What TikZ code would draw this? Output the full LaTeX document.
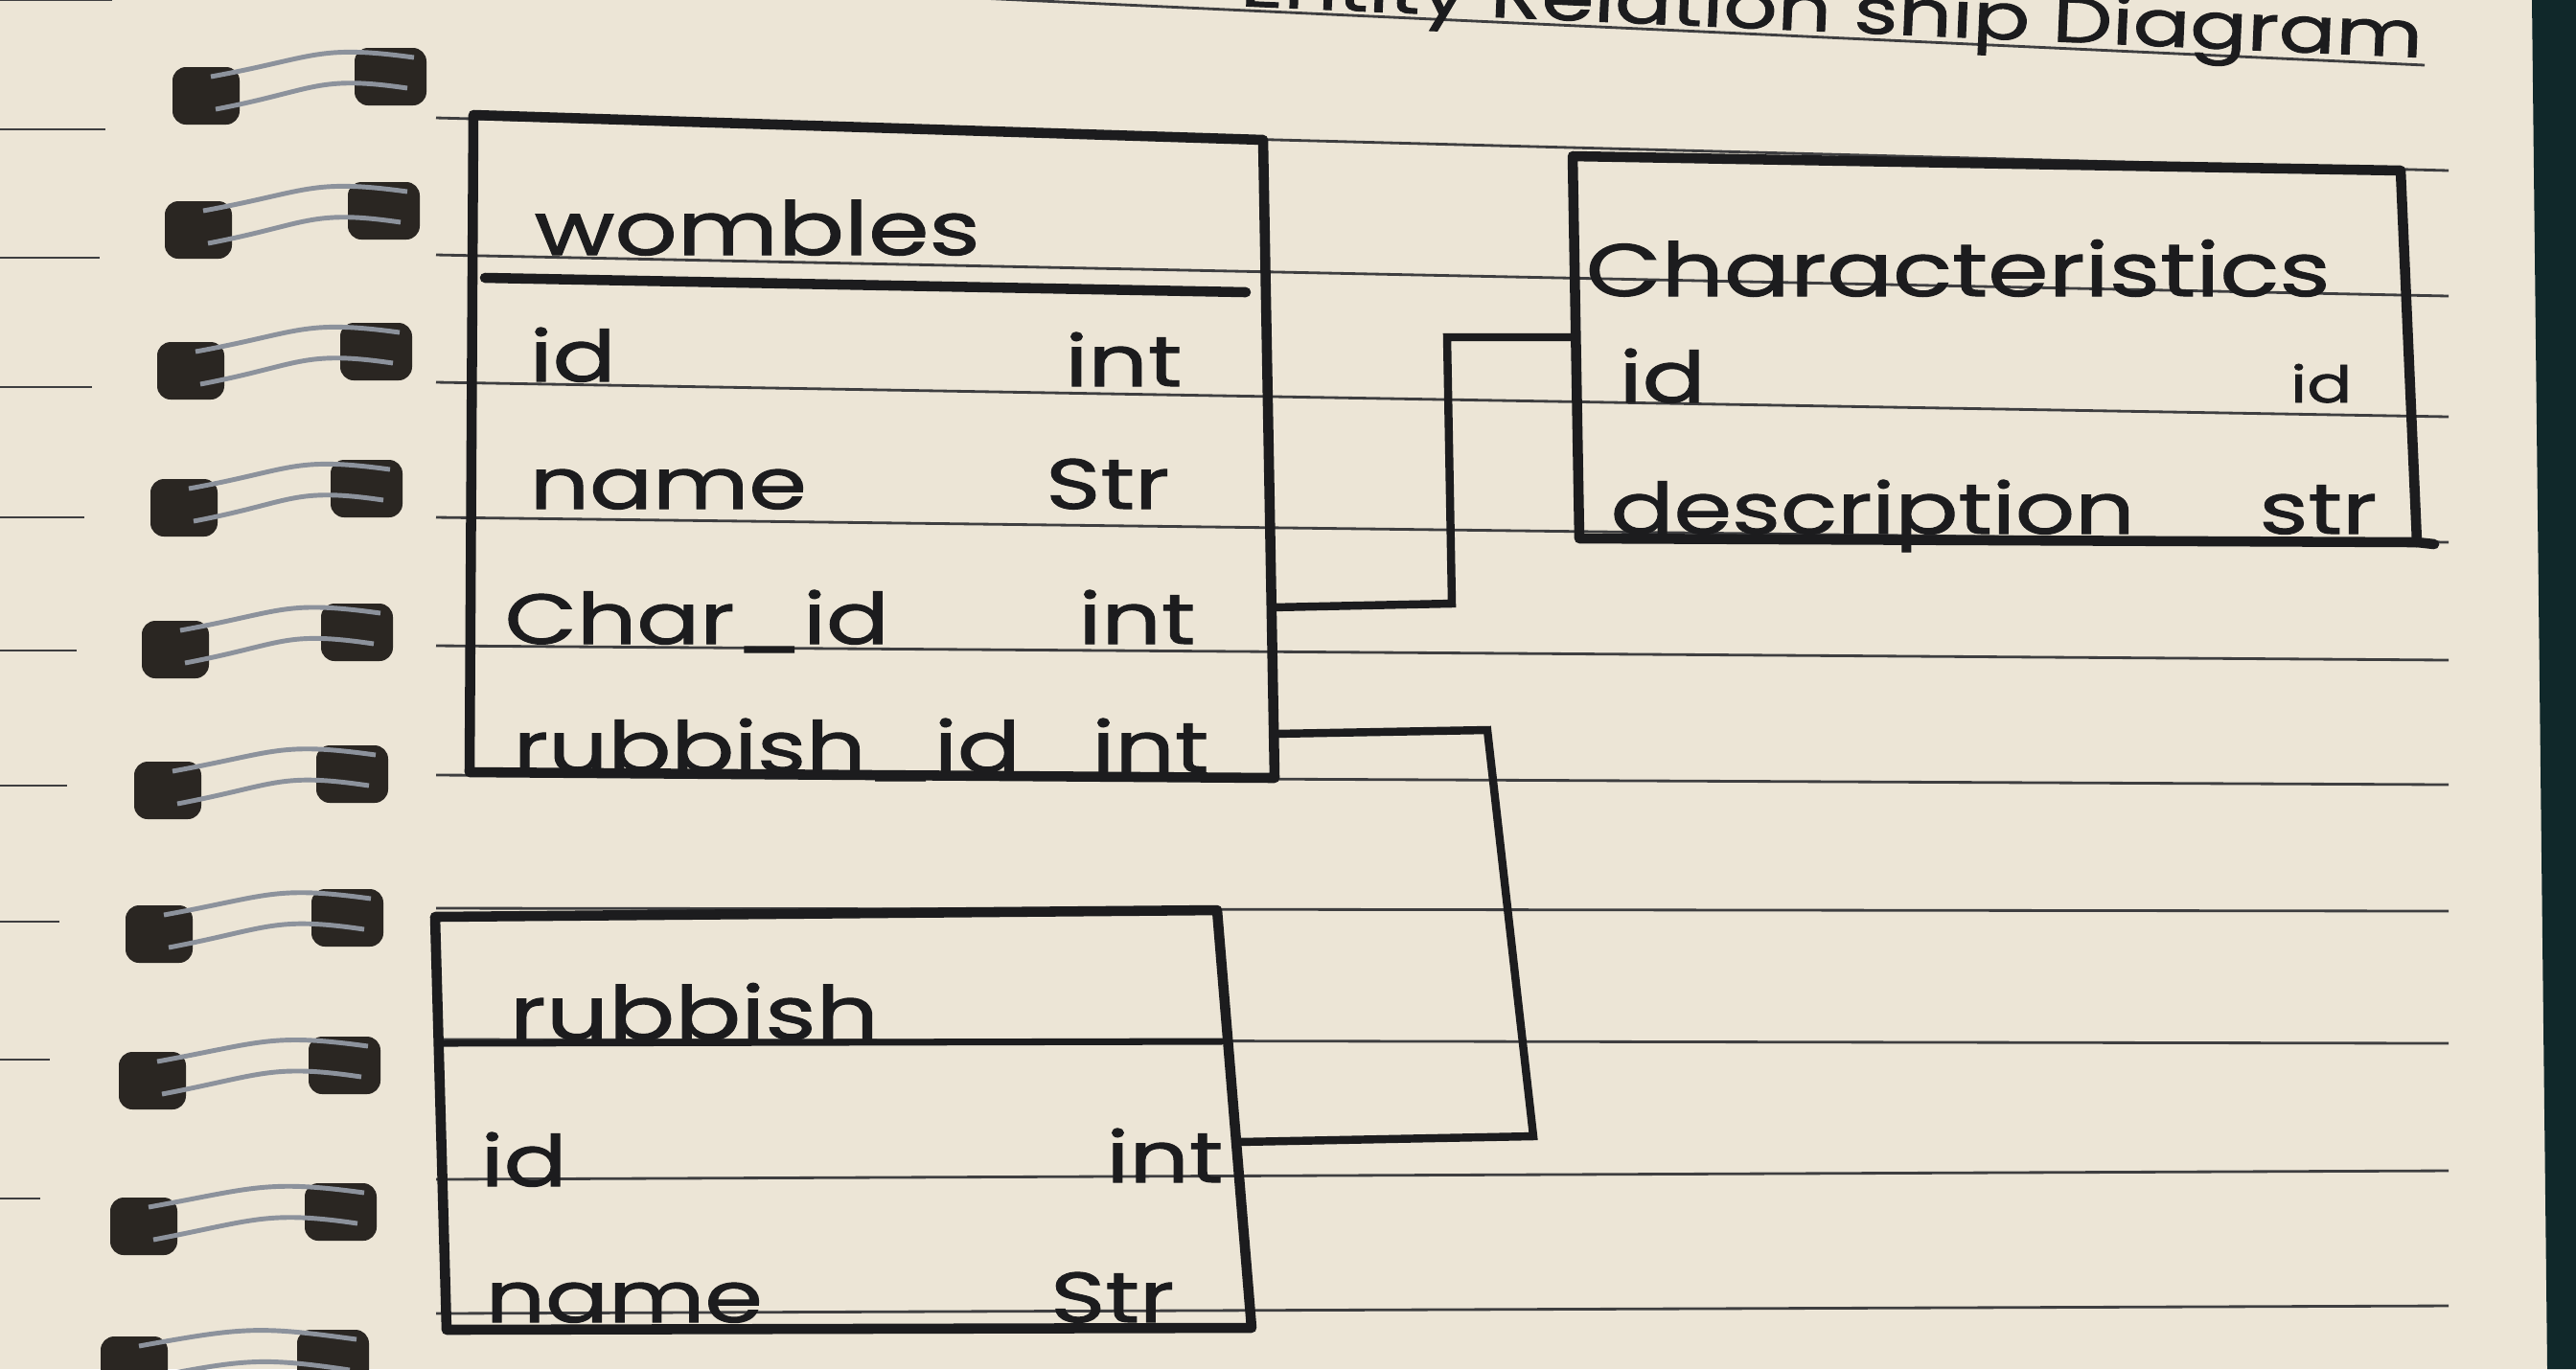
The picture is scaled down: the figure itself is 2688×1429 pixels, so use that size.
\documentclass[tikz,border=0pt]{standalone}
\usepackage{fontspec}
\newfontfamily\hand[FakeStretch=1.32,FakeBold=1.4]{Poppins}
\definecolor{paper}{RGB}{236,229,214}
\definecolor{ink}{RGB}{28,28,30}
\definecolor{rulec}{RGB}{62,62,64}
\definecolor{edgec}{RGB}{16,40,42}
\definecolor{holec}{RGB}{42,38,34}
\definecolor{wirec}{RGB}{140,146,156}
\begin{document}
\begin{tikzpicture}[x=0.01cm,y=-0.01cm,
  ruled/.style={draw=rulec, line width=0.8pt},
  boxline/.style={draw=ink, line width=3pt, line cap=round, line join=round},
  midline/.style={draw=ink, line width=2pt, line cap=round},
  conn/.style={draw=ink, line width=2.4pt, line join=miter},
  fld/.style={font=\hand\fontsize{21}{21}\selectfont, text=ink, inner sep=0, anchor=base west},
  typ/.style={font=\hand\fontsize{21}{21}\selectfont, text=ink, inner sep=0, anchor=base east},
  tbl/.style={font=\hand\fontsize{22}{22}\selectfont, text=ink, inner sep=0, anchor=base west},
  hole/.style={fill=holec, rounded corners=4pt},
  wire/.style={draw=wirec, line width=1.4pt}]
\useasboundingbox (0,0) rectangle (2688,1429);
\fill[paper] (0,0) rectangle (2688,1429);
\fill[edgec] (2642,0) -- (2688,0) -- (2688,1429) -- (2658,1429) -- cycle;

% left margin lines
\foreach \yy/\ll in {0/117,135/110,269/104,404/96,540/88,679/80,820/70,962/62,1106/52,1251/42}
  \draw[ruled] (0,\yy) -- (\ll,\yy);

% spiral binding
\foreach \lx/\ly/\rx/\ry in {180/100/370/80,172/240/363/220,164/387/355/367,157/530/345/510,148/678/335/660,140/825/330/808,131/975/325/958,124/1128/322/1112,115/1280/318/1265,105/1425/310/1418}{
  \fill[hole] (\lx,\ly-30) rectangle (\lx+70,\ly+30);
  \fill[hole] (\rx,\ry-30) rectangle (\rx+75,\ry+30);
  \draw[wire] (\lx+40,\ly-20) .. controls (\lx+150,\ly-40) and (\rx-40,\ry-34) .. (\rx+62,\ry-20);
  \draw[wire] (\lx+45,\ly+14) .. controls (\lx+150,\ly-6) and (\rx-40,\ry-2) .. (\rx+55,\ry+12);
}

% notebook rules
\foreach \yl/\yr in {123/178,266/309,399/435,540/566,674/689,809/819,948/951,1085/1089,1231/1222,1371/1363}
  \draw[ruled] (455,\yl) -- (2555,\yr);
\draw[ruled] (1000,-3) -- (2530,68);

% title (cut by the top edge of the photo, as in the original)
\node[font=\hand\fontsize{19}{19}\selectfont, text=ink, inner sep=0, anchor=base east, rotate=-2.5] (title) at (2528,60) {Entity Relation ship Diagram};

% ---- wombles table
\coordinate (wTL) at (494,120);
\coordinate (wTR) at (1318,146);
\coordinate (wBR) at (1330,812);
\coordinate (wBL) at (490,806);
\draw[boxline] (wTL) -- (wTR) -- (wBR) -- (wBL) -- cycle;
\draw[boxline] (506,290) -- (1300,305);
\node[tbl] (wT) at (557,266) {wombles};
\node[fld] (w1) at (552,398) {id};
\node[typ] (w1t) at (1234,403) {int};
\node[fld] (w2) at (552,531) {name};
\node[typ] (w2t) at (1221,531) {Str};
\node[fld] (w3) at (526,672) {Char\_id};
\node[typ] (w3t) at (1248,672) {int};
\node[fld] (w4) at (535,806) {rubbish\_id};
\node[typ] (w4t) at (1262,806) {int};
\coordinate (wChar) at (1327,634);
\coordinate (wRub) at (1329,766);

% ---- Characteristics table
\coordinate (cTL) at (1641,163);
\coordinate (cTR) at (2505,178);
\coordinate (cBR) at (2522,566);
\coordinate (cBL) at (1648,562);
\draw[boxline] (cTL) -- (cTR) -- (cBR) -- (cBL) -- cycle;
\draw[boxline] (cBR) -- (2540,568);
\node[tbl] (cT) at (1654,309) {Characteristics};
\node[fld] (c1) at (1689,420) {id};
\node[typ, font=\hand\fontsize{15}{15}\selectfont] (c1t) at (2455,420) {id};
\node[fld] (c2) at (1680,557) {description};
\node[typ] (c2t) at (2481,557) {str};
\coordinate (cId) at (1644,352);

% ---- rubbish table
\coordinate (rTL) at (454,957);
\coordinate (rTR) at (1270,950);
\coordinate (rBR) at (1306,1386);
\coordinate (rBL) at (466,1388);
\draw[boxline] (rTL) -- (rTR) -- (rBR) -- (rBL) -- cycle;
\draw[midline] (459,1089) -- (1275,1087);
\node[tbl] (rT) at (531,1085) {rubbish};
\node[fld] (r1) at (501,1238) {id};
\node[typ] (r1t) at (1277,1234) {int};
\node[fld] (r2) at (506,1380) {name};
\node[typ] (r2t) at (1226,1380) {Str};
\coordinate (rId) at (1292,1192);

% ---- connectors
\draw[conn] (wChar) -- (1515,630) -- (1510,352) -- (cId);
\draw[conn] (wRub) -- (1552,762) -- (1600,1186) -- (rId);
\end{tikzpicture}
\end{document}
